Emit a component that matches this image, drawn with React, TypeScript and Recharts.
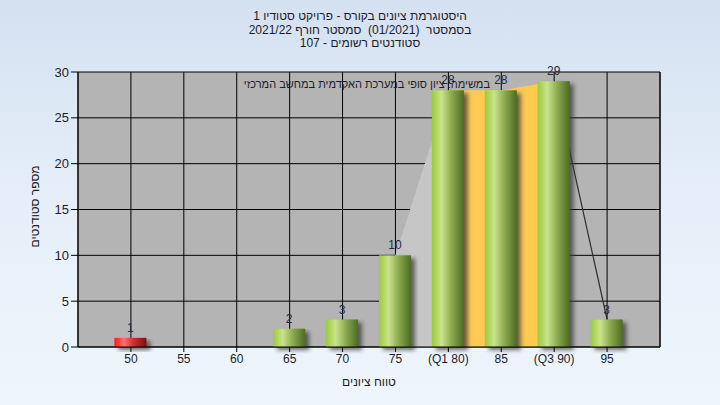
import React from "react";
import {
  ComposedChart,
  Bar,
  Area,
  XAxis,
  YAxis,
  CartesianGrid,
  LabelList,
} from "recharts";

// grade histogram data
const grades = [50, 55, 60, 65, 70, 75, 80, 85, 90, 95];
const counts = [1, 0, 0, 2, 3, 10, 28, 28, 29, 3];
const yTicks = [0, 5, 10, 15, 20, 25, 30];
const tickNames: Record<number, string> = { 80: "(Q1 80)", 90: "(Q3 90)" };

// distribution overlay segments (grade -> value)
const riseGrades = [75, 80];
const quartileGrades = [80, 85, 90];
const tailGrades = [90, 95];

const titleLines = [
  "היסטוגרמת ציונים בקורס - פרויקט סטודיו 1",
  "בסמסטר  (01/2021)  סמסטר חורף 2021/22",
  "סטודנטים רשומים - 107",
];
const noteText = "במשימה: ציון סופי במערכת האקדמית במחשב המרכזי";
const xTitle = "טווח ציונים";
const yTitle = "מספר סטודנטים";
const failBelow = 55;

const FONT = '"Liberation Sans", "DejaVu Sans", Arial, sans-serif';
const TEXT = "#1c1c28";

const data = grades.map((g, i) => ({
  grade: g,
  count: counts[i],
  rise: riseGrades.includes(g) ? counts[i] : null,
  quart: quartileGrades.includes(g) ? counts[i] : null,
  tail: tailGrades.includes(g) ? counts[i] : null,
}));

function CylinderBar(props: any) {
  const { x, y, width, height, payload } = props;
  if (!height || height <= 0) return null;
  const fill = payload.grade < failBelow ? "url(#redBar)" : "url(#greenBar)";
  return (
    <g>
      <rect
        x={x + 4}
        y={y + 3}
        width={width}
        height={height}
        fill="#3a3a3a"
        opacity={0.75}
        filter="url(#barShadow)"
      />
      <rect x={x} y={y} width={width} height={height} fill={fill} />
    </g>
  );
}

export default function App() {
  return (
    <div
      style={{
        position: "fixed",
        top: 0,
        left: 0,
        width: 720,
        height: 405,
        background: "linear-gradient(180deg, #d4e1f1 0%, #e6eff9 50%, #eef5fc 100%)",
        fontFamily: FONT,
        color: TEXT,
      }}
    >
      <div
        style={{
          position: "absolute",
          top: 10,
          left: 0,
          width: 720,
          textAlign: "center",
          fontSize: 12,
          lineHeight: "13.5px",
          direction: "rtl",
          whiteSpace: "pre",
        }}
      >
        {titleLines.map((t) => (
          <div key={t}>{t}</div>
        ))}
      </div>
      <ComposedChart
        width={720}
        height={405}
        data={data}
        margin={{ top: 72, right: 20, bottom: 28, left: 38 }}
        style={{ position: "absolute", top: 0, left: 0 }}
      >
        <defs>
          <linearGradient id="greenBar" x1="0" y1="0" x2="1" y2="0">
            <stop offset="0%" stopColor="#9ccb3c" />
            <stop offset="30%" stopColor="#c9e38c" />
            <stop offset="60%" stopColor="#8eac52" />
            <stop offset="100%" stopColor="#4d6b23" />
          </linearGradient>
          <linearGradient id="redBar" x1="0" y1="0" x2="1" y2="0">
            <stop offset="0%" stopColor="#ff1a1a" />
            <stop offset="30%" stopColor="#ff6e6e" />
            <stop offset="60%" stopColor="#c83030" />
            <stop offset="100%" stopColor="#7a1010" />
          </linearGradient>
          <filter id="barShadow" x="-30%" y="-10%" width="160%" height="130%">
            <feGaussianBlur stdDeviation="2" />
          </filter>
        </defs>
        <CartesianGrid
          yAxisId="left"
          stroke="#000"
          strokeWidth={1}
          fill="#b4b4b4"
          fillOpacity={1}
        />
        <XAxis
          dataKey="grade"
          type="number"
          domain={[45, 100]}
          ticks={grades}
          interval={0}
          height={30}
          tickSize={5}
          stroke="#000"
          tick={{ fontSize: 12, fill: TEXT, fontFamily: FONT }}
          tickFormatter={(v: number) => tickNames[v] ?? String(v)}
          label={{
            value: xTitle,
            position: "insideBottom",
            offset: -9,
            fontSize: 12,
            fill: TEXT,
            fontFamily: FONT,
          }}
        />
        <YAxis
          yAxisId="left"
          domain={[0, 30]}
          ticks={yTicks}
          width={40}
          tickSize={7}
          stroke="#000"
          tick={{ fontSize: 13, fill: TEXT, fontFamily: FONT }}
          label={{
            value: yTitle,
            angle: -90,
            position: "insideLeft",
            offset: -3,
            dy: 38,
            fontSize: 12,
            fill: TEXT,
            fontFamily: FONT,
          }}
        />
        <YAxis
          yAxisId="right"
          orientation="right"
          domain={[0, 30]}
          ticks={yTicks}
          width={40}
          tickSize={7}
          stroke="#000"
          tick={{ fontSize: 13, fill: TEXT, fontFamily: FONT }}
        />
        <Area
          yAxisId="left"
          dataKey="rise"
          type="linear"
          fill="#c6c6c6"
          fillOpacity={1}
          stroke="none"
          isAnimationActive={false}
        />
        <Area
          yAxisId="left"
          dataKey="quart"
          type="linear"
          fill="#fdca52"
          fillOpacity={1}
          stroke="none"
          isAnimationActive={false}
        />
        <Area
          yAxisId="left"
          dataKey="tail"
          type="linear"
          fill="none"
          fillOpacity={0}
          stroke="#2e2e2e"
          strokeWidth={1.2}
          isAnimationActive={false}
        />
        <Bar
          yAxisId="left"
          dataKey="count"
          barSize={32}
          shape={CylinderBar}
          isAnimationActive={false}
        >
          <LabelList
            dataKey="count"
            position="top"
            offset={6}
            fontSize={12}
            fill="#2a2a3a"
            fontFamily={FONT}
            formatter={(v: any) => (v > 0 ? v : "")}
          />
        </Bar>
      </ComposedChart>
      <div
        style={{
          position: "absolute",
          top: 78,
          left: 208,
          width: 282,
          textAlign: "right",
          fontSize: 11,
          direction: "rtl",
          whiteSpace: "nowrap",
        }}
      >
        {noteText}
      </div>
    </div>
  );
}
